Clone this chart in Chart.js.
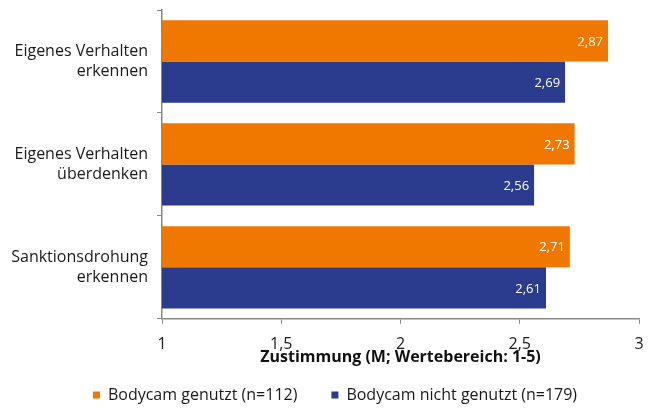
<!DOCTYPE html>
<html>
<head>
<meta charset="utf-8">
<script src="https://cdn.jsdelivr.net/npm/chart.js@4"></script>
<style>
  html, body { margin: 0; padding: 0; background: #fff; }
  #wrap { width: 656px; height: 409px; }
</style>
</head>
<body>
<div id="wrap"><canvas id="myChart" width="656" height="409"></canvas></div>
<script>
// Kategorien und Werte
const kategorien = [
  ["Eigenes Verhalten", "erkennen"],
  ["Eigenes Verhalten", "überdenken"],
  ["Sanktionsdrohung", "erkennen"]
];
const genutzt = [2.87, 2.73, 2.71];
const nichtGenutzt = [2.69, 2.56, 2.61];
const serienNamen = ["Bodycam genutzt (n=112)", "Bodycam nicht genutzt (n=179)"];
const achsenTitel = "Zustimmung (M; Wertebereich: 1-5)";

const orange = "#f07800";
const blau = "#2b3b8e";
const schrift = "'Open Sans', 'Noto Sans', sans-serif";

// Zahlen mit Komma wie im Original
function komma(v) {
  return String(v).replace(".", ",");
}

// eigenes kleines Plugin für die Werte am Balkenende (kein datalabels verfügbar)
const wertLabels = {
  id: "wertLabels",
  afterLayout(chart) {
    // y-Labels dürfen bis an den linken Rand reichen (sonst abgeschnitten)
    chart.scales.y.left = 0;
  },
  afterDatasetsDraw(chart) {
    const ctx = chart.ctx;
    ctx.save();
    ctx.font = "13px " + schrift;
    ctx.fillStyle = "#fff";
    ctx.textAlign = "right";
    ctx.textBaseline = "middle";
    chart.data.datasets.forEach(function (ds, i) {
      const meta = chart.getDatasetMeta(i);
      meta.data.forEach(function (bar, j) {
        ctx.fillText(komma(ds.data[j].toFixed(2)), bar.x - 5, bar.y + 1);
      });
    });
    ctx.restore();
  }
};

const chart = new Chart(document.getElementById("myChart").getContext("2d"), {
  type: "bar",
  data: {
    labels: kategorien,
    datasets: [
      {
        label: serienNamen[0],
        data: genutzt,
        backgroundColor: orange,
        categoryPercentage: 0.8,
        barPercentage: 1.0
      },
      {
        label: serienNamen[1],
        data: nichtGenutzt,
        backgroundColor: blau,
        categoryPercentage: 0.8,
        barPercentage: 1.0
      }
    ]
  },
  options: {
    indexAxis: "y",
    responsive: false,
    animation: false,
    layout: { padding: { top: 10, right: 0, left: 14, bottom: -4 } },
    scales: {
      x: {
        min: 1,
        max: 3,
        ticks: {
          stepSize: 0.5,
          color: "#1a1a1a",
          font: { family: schrift, size: 16 },
          padding: 11,
          callback: function (v) { return komma(v); }
        },
        grid: { drawOnChartArea: false, tickLength: 5, color: "#888" },
        border: { color: "#888", width: 1.5 },
        title: {
          display: true,
          text: achsenTitel,
          color: "#111",
          font: { family: schrift, size: 16, weight: "bold", lineHeight: 0.25 },
          padding: { top: -10, bottom: 18 }
        },
        afterFit: function (scale) {
          // Rand rechts wie im Original
          scale.paddingRight = 17;
        }
      },
      y: {
        ticks: {
          color: "#1a1a1a",
          font: { family: schrift, size: 16, lineHeight: 1.25 },
          padding: 9
        },
        grid: { drawOnChartArea: false, tickLength: 5, offset: true, color: "#888" },
        border: { color: "#888", width: 1.5 },
        afterFit: function (scale) {
          scale.width = 148;
          // Labels sitzen mittig in den Kategorien, kein Extra-Rand nötig
          scale.paddingTop = 0;
          scale.paddingBottom = 0;
        }
      }
    },
    plugins: {
      legend: {
        position: "bottom",
        labels: {
          boxWidth: 7,
          boxHeight: 7,
          padding: 10,
          color: "#1a1a1a",
          font: { family: schrift, size: 16 },
          // etwas mehr Abstand zwischen den beiden Einträgen
          generateLabels: function (c) {
            const items = Chart.defaults.plugins.legend.labels.generateLabels(c);
            items[0].text += "\u2002\u2002\u2002";
            return items;
          }
        }
      },
      tooltip: { enabled: false }
    }
  },
  plugins: [wertLabels]
});
</script>
</body>
</html>
